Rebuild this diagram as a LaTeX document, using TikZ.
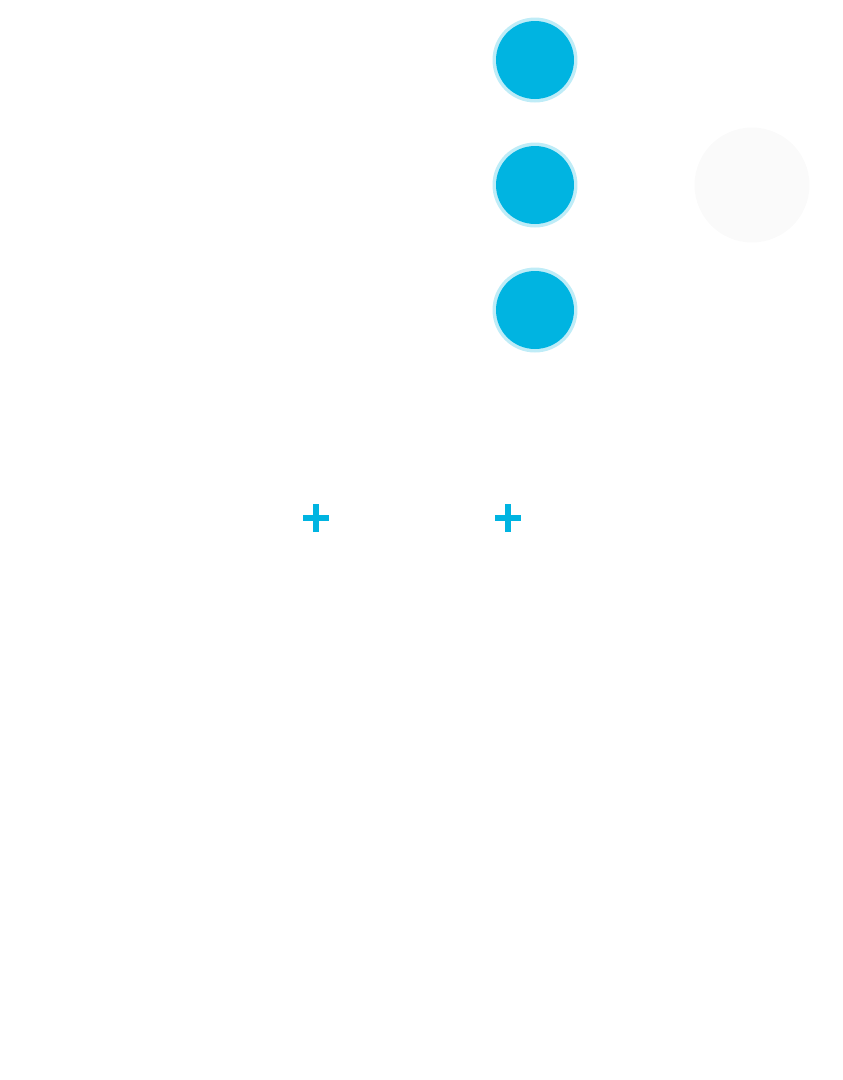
\documentclass[tikz,border=0pt]{standalone}
\usepackage{tikz}
\definecolor{dotblue}{HTML}{00B4E1}
\definecolor{faintgrey}{HTML}{FAFAFA}
\begin{document}
\begin{tikzpicture}[
        x=0.02cm, y=-0.02cm,
        dot/.style={circle, fill=dotblue, minimum size=1.56cm, inner sep=0pt},
        halo/.style={circle, fill=dotblue, opacity=0.25, minimum size=1.7cm, inner sep=0pt},
        ghost/.style={circle, fill=faintgrey, minimum size=2.3cm, inner sep=0pt},
        plus/.style={draw=dotblue, line width=1.3mm}
    ]
        \useasboundingbox (0,0) rectangle (843,1080);
        % Dots
        \foreach \name/\ypos in {top/60, mid/185, low/310} {
            \node [halo] (\name halo) at (535,\ypos) {};
            \node [dot] (\name) at (535,\ypos) {};
        }
        \node [ghost] (ghost) at (752,185) {};

        % Plus signs
        \foreach \name/\xpos in {left/316, right/508} {
            \coordinate (\name) at (\xpos,518);
            \draw [plus] ([xshift=-0.26cm]\name) -- ([xshift=0.26cm]\name);
            \draw [plus] ([yshift=-0.28cm]\name) -- ([yshift=0.28cm]\name);
        }
    \end{tikzpicture}
\end{document}
